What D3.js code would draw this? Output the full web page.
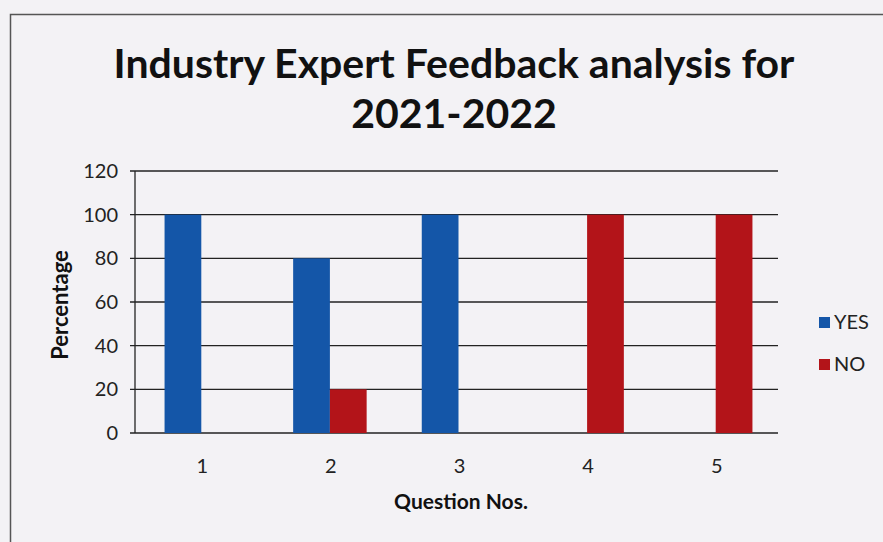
<!DOCTYPE html>
<html><head><meta charset="utf-8">
<script src="https://cdn.jsdelivr.net/npm/d3@7"></script>
<style>html,body{margin:0;padding:0;background:#f3f2f5;}svg{display:block;}</style>
</head><body>
<script>
const categories = ["1","2","3","4","5"];
const seriesNames = ["YES","NO"];
const yesValues = [100, 80, 100, 0, 0];
const noValues = [0, 20, 0, 100, 100];
const yTicks = [0, 20, 40, 60, 80, 100, 120];
const colors = {YES:"#1456a8", NO:"#b31419"};

(function(){
const W = 883, H = 542;
const svg = d3.select("body").append("svg").attr("width", W).attr("height", H);
svg.append("rect").attr("width", W).attr("height", H).attr("fill", "#f3f2f5");
svg.append("path").attr("d", "M10.5,542 L10.5,14.5 L883,14.5").attr("fill","none").attr("stroke","#555").attr("stroke-width",1.5);

const font = "Lato, 'Open Sans', sans-serif";
const title = svg.append("text").attr("text-anchor","middle").attr("font-family",font).attr("font-weight","bold").attr("font-size",41).attr("fill","#111");
title.append("tspan").attr("x",454).attr("y",78).text("Industry Expert Feedback analysis for");
title.append("tspan").attr("x",454).attr("y",128).text("2021-2022");

const pl = 135, pr = 778, pt = 171, pb = 433;
const x = d3.scaleBand().domain(categories).range([pl, pr]).paddingInner(0).paddingOuter(0);
const y = d3.scaleLinear().domain([0,120]).range([pb, pt]);
const barW = x.bandwidth() / 3.5;

svg.append("g").selectAll("line").data(yTicks).join("line")
  .attr("x1", pl - 5).attr("x2", pr).attr("y1", d=>y(d)).attr("y2", d=>y(d))
  .attr("stroke", "#222").attr("stroke-width", 1.3);
svg.append("line").attr("x1",pl).attr("x2",pl).attr("y1",pt).attr("y2",pb).attr("stroke","#222").attr("stroke-width",1.3);

svg.append("g").selectAll("text").data(yTicks).join("text")
  .attr("x", 118).attr("y", d=>y(d)+7).attr("text-anchor","end")
  .attr("font-family",font).attr("font-size",20).attr("fill","#222").text(d=>d);

const data = categories.map((c,i)=>({c, YES:yesValues[i], NO:noValues[i]}));
const xs = d3.scaleBand().domain(seriesNames).range([0, 2*barW]);
const g = svg.append("g");
data.forEach(d=>{
  seriesNames.forEach(s=>{
    if (d[s] > 0) {
      g.append("rect")
        .attr("x", x(d.c) + x.bandwidth()/2 - barW + xs(s) + 2)
        .attr("y", y(d[s])).attr("width", xs.bandwidth()).attr("height", pb - y(d[s]))
        .attr("fill", colors[s]);
    }
  });
});

svg.append("g").selectAll("text").data(categories).join("text")
  .attr("x", d=>x(d)+x.bandwidth()/2 + 3).attr("y", 473).attr("text-anchor","middle")
  .attr("font-family",font).attr("font-size",20).attr("fill","#222").text(d=>d);

svg.append("text").attr("x",461).attr("y",509).attr("text-anchor","middle")
  .attr("font-family",font).attr("font-weight","bold").attr("font-size",21).attr("fill","#111").text("Question Nos.");
svg.append("text").attr("transform","translate(68,305) rotate(-90)").attr("text-anchor","middle")
  .attr("font-family",font).attr("font-weight","bold").attr("font-size",22).attr("fill","#111").text("Percentage");

const lg = svg.append("g").attr("transform","translate(819,315)");
seriesNames.forEach((s,i)=>{
  lg.append("rect").attr("x",0).attr("y",i*42+2).attr("width",11).attr("height",11).attr("fill",colors[s]);
  lg.append("text").attr("x",15).attr("y",i*42+14).attr("font-family",font).attr("font-size",20).attr("fill","#222").text(s);
});
})();
</script>
</body></html>
